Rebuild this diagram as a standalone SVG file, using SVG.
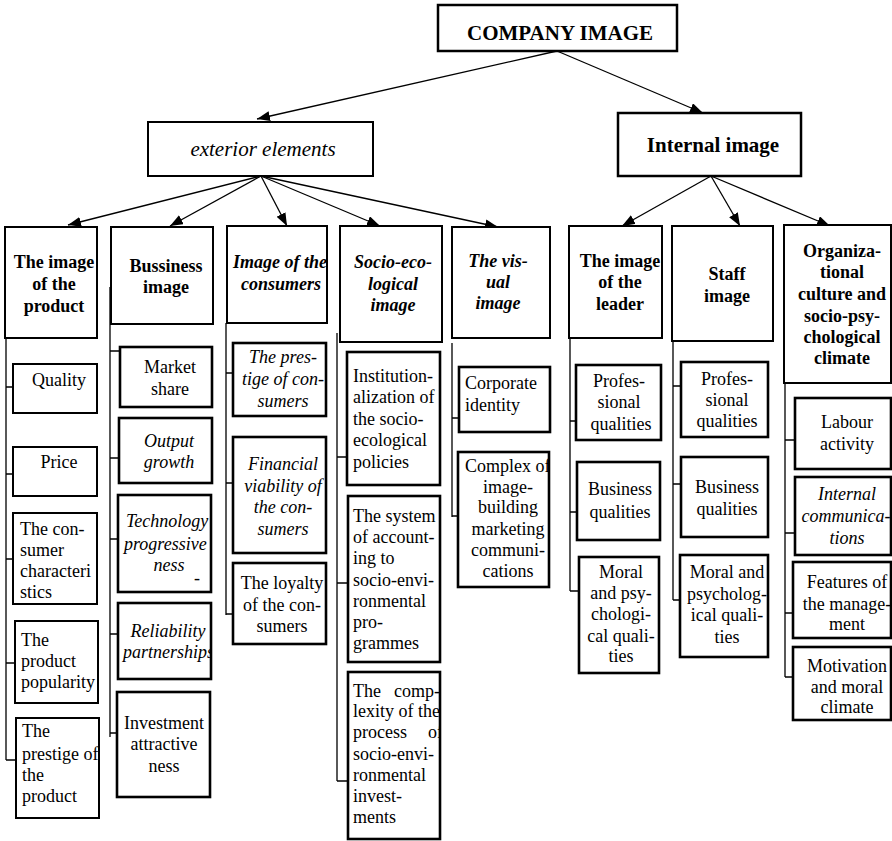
<svg xmlns="http://www.w3.org/2000/svg" width="892" height="841" viewBox="0 0 892 841">
<style>
.bx{fill:#fff;stroke:#000;stroke-width:2}
.tk{stroke-width:2.6}
.t{font-family:"Liberation Serif","Times New Roman",serif;font-size:18px;fill:#000}
.top{font-size:21px}
.b{font-weight:bold}
.i{font-style:italic}
.c{text-anchor:middle}
.ln{fill:none;stroke:#000;stroke-width:1.3}
</style>
<defs>
<marker id="ah" markerUnits="userSpaceOnUse" markerWidth="13" markerHeight="11" refX="13" refY="5" orient="auto">
<path d="M0,0 L13,5 L0,10 z" fill="#000"/>
</marker>
<clipPath id="c1h"><rect x="5" y="227" width="92" height="111"/></clipPath>
<clipPath id="c1p"><rect x="16" y="718" width="83" height="100"/></clipPath>
<clipPath id="c2t"><rect x="118" y="495" width="93" height="97"/></clipPath>
<clipPath id="c2r"><rect x="118" y="603" width="93" height="76"/></clipPath>
<clipPath id="c3h"><rect x="227" y="226" width="100" height="97"/></clipPath>
<clipPath id="c4i"><rect x="347" y="352" width="93" height="133"/></clipPath>
<clipPath id="c4c"><rect x="348" y="672" width="92" height="167"/></clipPath>
<clipPath id="c5c"><rect x="458" y="452" width="91" height="135"/></clipPath>
<clipPath id="c6h"><rect x="569" y="226" width="93" height="112"/></clipPath>
<clipPath id="c8i"><rect x="795" y="477" width="96" height="78"/></clipPath>
</defs>

<g id="connectors">
<line class="ln" x1="557" y1="51" x2="257" y2="119" marker-end="url(#ah)"/>
<line class="ln" x1="557" y1="51" x2="703" y2="113" marker-end="url(#ah)"/>
<line class="ln" x1="261" y1="176" x2="68" y2="225" marker-end="url(#ah)"/>
<line class="ln" x1="261" y1="176" x2="170" y2="226" marker-end="url(#ah)"/>
<line class="ln" x1="261" y1="176" x2="287" y2="226" marker-end="url(#ah)"/>
<line class="ln" x1="261" y1="176" x2="380" y2="226" marker-end="url(#ah)"/>
<line class="ln" x1="261" y1="176" x2="498" y2="227" marker-end="url(#ah)"/>
<line class="ln" x1="711" y1="176" x2="622" y2="226" marker-end="url(#ah)"/>
<line class="ln" x1="711" y1="176" x2="740" y2="226" marker-end="url(#ah)"/>
<line class="ln" x1="711" y1="176" x2="830" y2="226" marker-end="url(#ah)"/>
<path class="ln" d="M6,324 V760 M6,387 H13 M6,474 H13 M6,559 H13 M6,663 H15 M6,760 H16"/>
<path class="ln" d="M110,287 V737 M110,351 H120 M110,458 H119 M110,539 H118 M110,634 H118 M110,733 H117"/>
<path class="ln" d="M226,323 V615 M226,373 H233 M226,483 H233 M226,614 H233"/>
<path class="ln" d="M337,333 V781 M337,457 H347 M337,583 H348 M337,781 H348"/>
<path class="ln" d="M452,343 V517 M452,418 H459 M452,516 H458"/>
<path class="ln" d="M570,338 V591 M570,421 H576 M570,512 H577 M570,591 H579"/>
<path class="ln" d="M673,341 V600 M673,386 H681 M673,484 H681 M673,600 H680"/>
<path class="ln" d="M785,383 V677 M785,440 H795 M785,533 H795 M785,613 H793 M785,677 H793"/>
</g>

<g id="company-image">
<rect class="bx" x="438" y="5" width="239" height="46" style="stroke-width:2.5"/>
<text class="t top b c" x="560" y="40">COMPANY IMAGE</text>
</g>
<g id="exterior-elements">
<rect class="bx" x="148" y="122" width="225" height="54"/>
<text class="t top i c" x="263" y="156">exterior elements</text>
</g>
<g id="internal-image">
<rect class="bx" x="618" y="113" width="183" height="63" style="stroke-width:2.5"/>
<text class="t top b c" x="713" y="152">Internal image</text>
</g>

<g id="image-of-product">
<rect class="bx" x="5" y="227" width="92" height="111"/>
<g clip-path="url(#c1h)"><text class="t b c" x="54"><tspan x="54" y="268">The image</tspan><tspan x="54" y="290">of the</tspan><tspan x="54" y="312">product</tspan></text></g>
</g>
<g id="quality">
<rect class="bx" x="13" y="364" width="84" height="49"/>
<text class="t c" x="59" y="386">Quality</text>
</g>
<g id="price">
<rect class="bx" x="13" y="447" width="84" height="49"/>
<text class="t c" x="59" y="468">Price</text>
</g>
<g id="consumer-characteristics">
<rect class="bx" x="13" y="513" width="84" height="91"/>
<text class="t"><tspan x="20" y="535">The con-</tspan><tspan x="20" y="556">sumer</tspan><tspan x="20" y="577">characteri</tspan><tspan x="20" y="598">stics</tspan></text>
</g>
<g id="product-popularity">
<rect class="bx" x="15" y="621" width="83" height="82"/>
<text class="t"><tspan x="21" y="646">The</tspan><tspan x="21" y="667">product</tspan><tspan x="21" y="688">popularity</tspan></text>
</g>
<g id="prestige-of-product">
<rect class="bx" x="16" y="718" width="83" height="100"/>
<g clip-path="url(#c1p)"><text class="t"><tspan x="22" y="737">The</tspan><tspan x="22" y="760">prestige of</tspan><tspan x="22" y="781">the</tspan><tspan x="22" y="802">product</tspan></text></g>
</g>

<g id="bussiness-image">
<rect class="bx" x="111" y="227" width="102" height="97"/>
<text class="t b c"><tspan x="166" y="272">Bussiness</tspan><tspan x="166" y="293">image</tspan></text>
</g>
<g id="market-share">
<rect class="bx tk" x="120" y="347" width="92" height="60"/>
<text class="t c"><tspan x="170" y="373">Market</tspan><tspan x="170" y="395">share</tspan></text>
</g>
<g id="output-growth">
<rect class="bx tk" x="119" y="418" width="93" height="65"/>
<text class="t i c"><tspan x="169" y="447">Output</tspan><tspan x="169" y="468">growth</tspan></text>
</g>
<g id="technology">
<rect class="bx tk" x="118" y="495" width="93" height="97"/>
<g clip-path="url(#c2t)">
<text class="t i" x="126" y="527">Technology</text>
<text class="t i" x="124" y="550">progressive</text>
<text class="t i c" x="169" y="571">ness</text>
<text class="t c" x="197" y="584">-</text>
</g>
</g>
<g id="reliability">
<rect class="bx tk" x="118" y="603" width="93" height="76"/>
<g clip-path="url(#c2r)">
<text class="t i c" x="168" y="637">Reliability</text>
<text class="t i" x="123" y="658">partnerships</text>
</g>
</g>
<g id="investment">
<rect class="bx tk" x="117" y="692" width="93" height="105"/>
<text class="t c"><tspan x="164" y="729">Investment</tspan><tspan x="164" y="750">attractive</tspan><tspan x="164" y="772">ness</tspan></text>
</g>

<g id="image-of-consumers">
<rect class="bx" x="227" y="226" width="100" height="97"/>
<g clip-path="url(#c3h)">
<text class="t b i" x="233" y="268">Image of the</text>
<text class="t b i c" x="281" y="290">consumers</text>
</g>
</g>
<g id="prestige-of-consumers">
<rect class="bx tk" x="233" y="343" width="93" height="73"/>
<text class="t i c"><tspan x="283" y="363">The pres-</tspan><tspan x="283" y="385">tige of con-</tspan><tspan x="283" y="407">sumers</tspan></text>
</g>
<g id="financial-viability">
<rect class="bx tk" x="233" y="437" width="93" height="116"/>
<text class="t i c"><tspan x="283" y="470">Financial</tspan><tspan x="283" y="492">viability of</tspan><tspan x="283" y="513">the con-</tspan><tspan x="283" y="535">sumers</tspan></text>
</g>
<g id="loyalty">
<rect class="bx tk" x="233" y="563" width="93" height="81"/>
<text class="t c"><tspan x="282" y="589">The loyalty</tspan><tspan x="282" y="611">of the con-</tspan><tspan x="282" y="632">sumers</tspan></text>
</g>

<g id="socio-ecological-image">
<rect class="bx" x="340" y="226" width="102" height="116"/>
<text class="t b i c"><tspan x="393" y="268">Socio-eco-</tspan><tspan x="393" y="290">logical</tspan><tspan x="393" y="311">image</tspan></text>
</g>
<g id="institutionalization">
<rect class="bx tk" x="347" y="352" width="93" height="133"/>
<g clip-path="url(#c4i)"><text class="t"><tspan x="353" y="382">Institution-</tspan><tspan x="353" y="403">alization of</tspan><tspan x="353" y="425">the socio-</tspan><tspan x="353" y="446">ecological</tspan><tspan x="353" y="468">policies</tspan></text></g>
</g>
<g id="system-of-accounting">
<rect class="bx tk" x="348" y="496" width="92" height="166"/>
<text class="t"><tspan x="353" y="522">The system</tspan><tspan x="353" y="543">of account-</tspan><tspan x="353" y="564">ing to</tspan><tspan x="353" y="586">socio-envi-</tspan><tspan x="353" y="607">ronmental</tspan><tspan x="353" y="628">pro-</tspan><tspan x="353" y="649">grammes</tspan></text>
</g>
<g id="complexity">
<rect class="bx tk" x="348" y="672" width="92" height="167"/>
<g clip-path="url(#c4c)">
<text class="t" x="353" y="697">The</text>
<text class="t" x="394" y="697">comp-</text>
<text class="t" x="353" y="717">lexity of the</text>
<text class="t" x="353" y="738">process</text>
<text class="t" x="428" y="738">of</text>
<text class="t"><tspan x="353" y="760">socio-envi-</tspan><tspan x="353" y="781">ronmental</tspan><tspan x="353" y="802">invest-</tspan><tspan x="353" y="823">ments</tspan></text>
</g>
</g>

<g id="visual-image">
<rect class="bx" x="452" y="227" width="98" height="111"/>
<text class="t b i c"><tspan x="498" y="267">The vis-</tspan><tspan x="498" y="288">ual</tspan><tspan x="498" y="309">image</tspan></text>
</g>
<g id="corporate-identity">
<rect class="bx tk" x="459" y="367" width="91" height="65"/>
<text class="t"><tspan x="465" y="389">Corporate</tspan><tspan x="465" y="411">identity</tspan></text>
</g>
<g id="complex-marketing">
<rect class="bx tk" x="458" y="452" width="91" height="135"/>
<g clip-path="url(#c5c)">
<text class="t" x="465" y="472">Complex of</text>
<text class="t c"><tspan x="508" y="493">image-</tspan><tspan x="508" y="513">building</tspan><tspan x="508" y="535">marketing</tspan><tspan x="508" y="556">communi-</tspan><tspan x="508" y="577">cations</tspan></text>
</g>
</g>

<g id="image-of-leader">
<rect class="bx" x="569" y="226" width="93" height="112"/>
<g clip-path="url(#c6h)"><text class="t b c"><tspan x="620" y="267">The image</tspan><tspan x="620" y="288">of the</tspan><tspan x="620" y="310">leader</tspan></text></g>
</g>
<g id="leader-professional">
<rect class="bx tk" x="576" y="365" width="85" height="75"/>
<text class="t c"><tspan x="619" y="387">Profes-</tspan><tspan x="619" y="408">sional</tspan><tspan x="621" y="430">qualities</tspan></text>
</g>
<g id="leader-business">
<rect class="bx tk" x="577" y="462" width="83" height="78"/>
<text class="t c"><tspan x="620" y="495">Business</tspan><tspan x="620" y="518">qualities</tspan></text>
</g>
<g id="leader-moral">
<rect class="bx tk" x="579" y="557" width="80" height="116"/>
<text class="t c"><tspan x="621" y="578">Moral</tspan><tspan x="621" y="599">and psy-</tspan><tspan x="621" y="620">chologi-</tspan><tspan x="621" y="642">cal quali-</tspan><tspan x="621" y="662">ties</tspan></text>
</g>

<g id="staff-image">
<rect class="bx" x="672" y="226" width="101" height="115"/>
<text class="t b c"><tspan x="727" y="280">Staff</tspan><tspan x="727" y="302">image</tspan></text>
</g>
<g id="staff-professional">
<rect class="bx tk" x="681" y="362" width="87" height="75"/>
<text class="t c"><tspan x="727" y="385">Profes-</tspan><tspan x="727" y="406">sional</tspan><tspan x="727" y="427">qualities</tspan></text>
</g>
<g id="staff-business">
<rect class="bx tk" x="681" y="457" width="87" height="80"/>
<text class="t c"><tspan x="727" y="493">Business</tspan><tspan x="727" y="515">qualities</tspan></text>
</g>
<g id="staff-moral">
<rect class="bx tk" x="680" y="555" width="88" height="102"/>
<text class="t c"><tspan x="727" y="578">Moral and</tspan><tspan x="727" y="600">psycholog-</tspan><tspan x="727" y="621">ical quali-</tspan><tspan x="727" y="643">ties</tspan></text>
</g>

<g id="organizational-culture">
<rect class="bx" x="784" y="225" width="107" height="158"/>
<text class="t b c"><tspan x="842" y="257">Organiza-</tspan><tspan x="842" y="278">tional</tspan><tspan x="842" y="300">culture and</tspan><tspan x="842" y="322">socio-psy-</tspan><tspan x="842" y="343">chological</tspan><tspan x="842" y="364">climate</tspan></text>
</g>
<g id="labour-activity">
<rect class="bx tk" x="795" y="398" width="96" height="71"/>
<text class="t c"><tspan x="847" y="428">Labour</tspan><tspan x="847" y="450">activity</tspan></text>
</g>
<g id="internal-communications">
<rect class="bx tk" x="795" y="477" width="96" height="78"/>
<g clip-path="url(#c8i)"><text class="t i c"><tspan x="847" y="500">Internal</tspan><tspan x="846" y="522">communica-</tspan><tspan x="847" y="544">tions</tspan></text></g>
</g>
<g id="features-management">
<rect class="bx tk" x="793" y="562" width="98" height="76"/>
<text class="t c"><tspan x="847" y="588">Features of</tspan><tspan x="847" y="610">the manage-</tspan><tspan x="847" y="630">ment</tspan></text>
</g>
<g id="motivation">
<rect class="bx tk" x="793" y="647" width="98" height="73"/>
<text class="t c"><tspan x="847" y="672">Motivation</tspan><tspan x="847" y="693">and moral</tspan><tspan x="847" y="713">climate</tspan></text>
</g>
</svg>
